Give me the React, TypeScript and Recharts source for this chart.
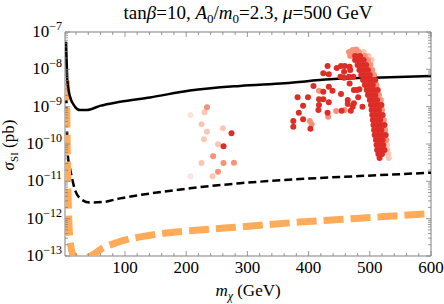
import React from 'react';
import { ComposedChart, Line, Scatter, XAxis, YAxis, ReferenceArea } from 'recharts';

// Geometria do gráfico (mesma área de plotagem da figura original)
const W = 444;
const H = 304;
const LEFT = 65;
const RIGHT = 431;
const TOP = 32;
const BOTTOM = 256;
const FRAME = '#808080';
const FONT = '"Liberation Serif", "DejaVu Serif", serif';

// Eixos
const xDomain = [2, 600];
const yDomain = [1e-13, 1e-7];
const xMajorTicks = [100, 200, 300, 400, 500, 600];
const xMinorTicks = [20, 40, 60, 80, 120, 140, 160, 180, 220, 240, 260, 280, 320, 340, 360, 380, 420, 440, 460, 480, 520, 540, 560, 580];
const yDecades = [-13, -12, -11, -10, -9, -8, -7];

// Limite sólido (curva preta)
const solidMass = [3.6, 4.8, 5.8, 10.2, 18.3, 26.5, 37.5, 59, 92, 141, 206, 288, 361, 435, 533, 600];
const solidSigma = [5.5e-8, 1.45e-8, 5.2e-9, 1.86e-9, 1.0e-9, 8.1e-10, 8.1e-10, 1.05e-9, 1.35e-9, 1.77e-9, 2.7e-9, 3.6e-9, 4.25e-9, 5.4e-9, 6.1e-9, 6.6e-9];

// Limite projetado (preto tracejado)
const dashedMass = [4.2, 5, 5.8, 7.4, 10.2, 18.3, 26.5, 42.8, 64.6, 92, 124.5, 206, 288, 386, 517, 600];
const dashedSigma = [2e-9, 4.9e-10, 1.05e-10, 3.7e-11, 2.2e-11, 5.9e-12, 3.5e-12, 2.7e-12, 2.8e-12, 3.5e-12, 4.3e-12, 6.5e-12, 8.9e-12, 1.15e-11, 1.47e-11, 1.7e-11];

// Curva laranja grossa
const orangeMass = [4.5, 5, 6, 7.5, 10, 15, 25, 35, 48, 60, 87, 141, 222, 288, 386, 517, 600];
const orangeSigma = [5e-9, 5e-10, 3e-11, 2e-12, 3e-13, 1.1e-13, 8.5e-14, 8.5e-14, 1.1e-13, 1.5e-13, 2.3e-13, 3.6e-13, 5.0e-13, 6.0e-13, 8.1e-13, 1.12e-12, 1.38e-12];

// Pontos do scan, por tom de cor: [m_chi, sigma]
const redPoints: [number, number][] = [
  [274, 1.93e-10], [261, 8.7e-11],
  [431, 1.23e-8], [424, 7.8e-9], [433, 7.4e-9], [446, 1.09e-8], [453, 1.23e-8], [459, 1.23e-8],
  [467, 1.18e-8], [458, 8.6e-9], [468, 9.6e-9], [473, 6.35e-9], [466, 6.35e-9], [458, 5.97e-9],
  [452, 6.35e-9], [408, 3.6e-9], [433, 3.4e-9], [439, 2.68e-9], [424, 2.52e-9], [453, 2.18e-9],
  [467, 4.2e-9], [474, 2.8e-9], [483, 2.92e-9], [382, 1.78e-9], [399, 1.78e-9], [417, 1.57e-9],
  [424, 1.57e-9], [433, 1.31e-9], [464, 1.51e-9], [464, 1.18e-9], [474, 1.23e-9], [481, 1.78e-9],
  [479, 2.8e-9], [391, 1.06e-9], [417, 1.11e-9], [416, 8.1e-10], [384, 6.9e-10], [431, 6.9e-10],
  [454, 7.8e-10], [469, 7.8e-10], [472, 1.0e-9], [488, 1.0e-9], [375, 4.1e-10], [375, 2.9e-10],
  [391, 4.6e-10], [403, 2.57e-10],
  [476, 2.28e-8], [484, 2.28e-8],
  [476, 1.78e-8], [483, 1.78e-8], [490, 1.78e-8],
  [480, 1.3e-8], [487, 1.3e-8], [494, 1.3e-8],
  [483, 9.6e-9], [490, 9.6e-9], [497, 9.6e-9],
  [486, 7.05e-9], [493, 7.05e-9], [500, 7.05e-9],
  [489, 5.2e-9], [496, 5.2e-9], [503, 5.2e-9], [509, 5.2e-9],
  [492, 3.8e-9], [499, 3.8e-9], [505, 3.8e-9],
  [495, 2.8e-9], [501, 2.8e-9], [507, 2.8e-9], [513, 2.8e-9],
  [497, 2.05e-9], [503, 2.05e-9], [509, 2.05e-9],
  [500, 1.51e-9], [506, 1.51e-9], [512, 1.51e-9],
  [502, 1.11e-9], [508, 1.11e-9], [514, 1.11e-9], [519, 1.11e-9],
  [503, 8.1e-10], [509, 8.1e-10], [515, 8.1e-10],
  [504, 6.0e-10], [510, 6.0e-10], [516, 6.0e-10], [521, 6.0e-10],
  [505, 4.4e-10], [511, 4.4e-10], [517, 4.4e-10],
  [506, 3.23e-10], [512, 3.23e-10], [518, 3.23e-10], [524, 3.23e-10],
  [507, 2.37e-10], [513, 2.37e-10], [519, 2.37e-10],
  [508, 1.74e-10], [514, 1.74e-10], [520, 1.74e-10], [526, 1.74e-10],
  [510, 1.28e-10], [516, 1.28e-10], [521, 1.28e-10],
  [511, 9.4e-11], [517, 9.4e-11], [522, 9.4e-11],
  [512, 6.9e-11], [518, 6.9e-11], [524, 6.9e-11],
  [514, 5.4e-11], [520, 5.4e-11],
  [516, 4.2e-11],
];

const salmonPoints: [number, number][] = [
  [234, 9.6e-10], [244, 4.7e-11], [261, 3.1e-11], [278, 3.15e-11], [252, 1.81e-11],
  [417, 2.68e-9], [432, 5.4e-10], [445, 7.65e-10], [459, 8.1e-10], [402, 4.1e-10], [405, 3.4e-10],
  [472, 3.3e-8], [478, 3.4e-8], [466, 2.9e-8], [474, 2.9e-8], [482, 2.9e-8], [468, 2.28e-8], [492, 2.28e-8],
  [497, 1.78e-8], [501, 1.3e-8], [504, 9.6e-9], [507, 7.05e-9], [511, 3.8e-9], [515, 2.05e-9],
  [518, 1.51e-9], [520, 8.1e-10], [523, 4.4e-10], [525, 2.37e-10], [527, 1.28e-10],
];

const lightPoints: [number, number][] = [
  [230, 7.1e-10], [225, 3.4e-10], [260, 2.63e-10], [234, 2.13e-10], [229, 1.34e-10], [252, 9.8e-11],
  [225, 3.1e-11], [243, 1.36e-11],
  [490, 2.9e-8], [498, 2.28e-8], [503, 1.78e-8], [528, 9.4e-11], [529, 6.9e-11], [530, 5.4e-11], [531, 4.2e-11],
];

const palePoints: [number, number][] = [
  [207, 6.0e-10], [207, 1.36e-11],
];

const toRows = (mass: number[], sigma: number[]) => mass.map((x, i) => ({ x, y: sigma[i] }));
const toPts = (pts: [number, number][]) => pts.map(([x, y]) => ({ x, y }));

const solidData = toRows(solidMass, solidSigma);
const dashedData = toRows(dashedMass, dashedSigma);
const orangeData = toRows(orangeMass, orangeSigma);

const xTicks = [...xMinorTicks, ...xMajorTicks].sort((a, b) => a - b);
const yTicks: number[] = [];
yDecades.forEach((d) => {
  yTicks.push(Math.pow(10, d));
  if (d < -7) for (let k = 2; k <= 9; k++) yTicks.push(k * Math.pow(10, d));
});

function XTick(props: any) {
  const { x, payload } = props;
  const v = payload.value;
  const major = xMajorTicks.includes(v);
  const len = major ? 5 : 3;
  return (
    <g>
      <line x1={x} x2={x} y1={BOTTOM} y2={BOTTOM - len} stroke={FRAME} strokeWidth={0.8} />
      <line x1={x} x2={x} y1={TOP} y2={TOP + len} stroke={FRAME} strokeWidth={0.8} />
      {major && (
        <text x={x} y={BOTTOM + 17} textAnchor="middle" fontFamily={FONT} fontSize={17} fill="#000">
          {v}
        </text>
      )}
    </g>
  );
}

function YTick(props: any) {
  const { y, payload } = props;
  const e = Math.log10(payload.value);
  const major = Math.abs(e - Math.round(e)) < 1e-6;
  const len = major ? 5 : 3;
  return (
    <g>
      <line x1={LEFT} x2={LEFT + len} y1={y} y2={y} stroke={FRAME} strokeWidth={0.8} />
      <line x1={RIGHT} x2={RIGHT - len} y1={y} y2={y} stroke={FRAME} strokeWidth={0.8} />
      {major && (
        <text x={LEFT - 3} y={y + 5} textAnchor="end" fontFamily={FONT} fontSize={17} fill="#000">
          10
          <tspan dy={-7} fontSize={12}>{'\u2212' + Math.abs(Math.round(e))}</tspan>
        </text>
      )}
    </g>
  );
}

const dot = (color: string) => (p: any) => <circle cx={p.cx} cy={p.cy} r={3} fill={color} />;

export default function App() {
  return (
    <div style={{ position: 'absolute', left: 0, top: 0, width: W, height: H, background: '#fff' }}>
      <ComposedChart width={W} height={H} margin={{ top: TOP, right: W - RIGHT, bottom: 0, left: 0 }}>
        <XAxis
          dataKey="x"
          type="number"
          domain={xDomain}
          allowDataOverflow
          ticks={xTicks}
          interval={0}
          tick={<XTick />}
          tickLine={false}
          axisLine={false}
          height={H - BOTTOM}
        />
        <YAxis
          dataKey="y"
          type="number"
          scale="log"
          domain={yDomain}
          allowDataOverflow
          ticks={yTicks}
          interval={0}
          tick={<YTick />}
          tickLine={false}
          axisLine={false}
          width={LEFT}
        />
        <ReferenceArea x1={xDomain[0]} x2={xDomain[1]} y1={yDomain[0]} y2={yDomain[1]} fill="none" stroke={FRAME} strokeWidth={1} ifOverflow="visible" />
        <Line data={dashedData} dataKey="y" type="monotone" dot={false} stroke="#000" strokeWidth={2.5} strokeDasharray="8 4" isAnimationActive={false} />
        <Line data={orangeData} dataKey="y" type="monotone" dot={false} stroke="#ffab5a" strokeWidth={7} strokeDasharray="20 7" isAnimationActive={false} />
        <Scatter data={toPts(palePoints)} shape={dot('#fde4da')} isAnimationActive={false} />
        <Scatter data={toPts(lightPoints)} shape={dot('#fbc7b4')} isAnimationActive={false} />
        <Scatter data={toPts(salmonPoints)} shape={dot('#f6917a')} isAnimationActive={false} />
        <Scatter data={toPts(redPoints)} shape={dot('#de2d26')} isAnimationActive={false} />
        <Line data={solidData} dataKey="y" type="monotone" dot={false} stroke="#000" strokeWidth={2.5} isAnimationActive={false} />
      </ComposedChart>
      <svg width={W} height={H} style={{ position: 'absolute', left: 0, top: 0, pointerEvents: 'none' }} fontFamily={FONT}>
        <text x={(LEFT + RIGHT) / 2} y={19} textAnchor="middle" fontSize={19}>
          tan<tspan fontStyle="italic">β</tspan>=10, <tspan fontStyle="italic">A</tspan>
          <tspan dy={4} fontSize={13}>0</tspan>
          <tspan dy={-4}>/</tspan>
          <tspan fontStyle="italic">m</tspan>
          <tspan dy={4} fontSize={13}>0</tspan>
          <tspan dy={-4}>=2.3, </tspan>
          <tspan fontStyle="italic">μ</tspan>=500 GeV
        </text>
        <text x={(LEFT + RIGHT) / 2} y={296} textAnchor="middle" fontSize={17}>
          <tspan fontStyle="italic">m</tspan>
          <tspan dy={4} fontSize={12} fontStyle="italic">χ</tspan>
          <tspan dy={-4}> (GeV)</tspan>
        </text>
        <text transform="translate(14,145) rotate(-90)" textAnchor="middle" fontSize={17}>
          <tspan fontStyle="italic">σ</tspan>
          <tspan dy={4} fontSize={11}>SI</tspan>
          <tspan dy={-4}> (pb)</tspan>
        </text>
      </svg>
    </div>
  );
}
